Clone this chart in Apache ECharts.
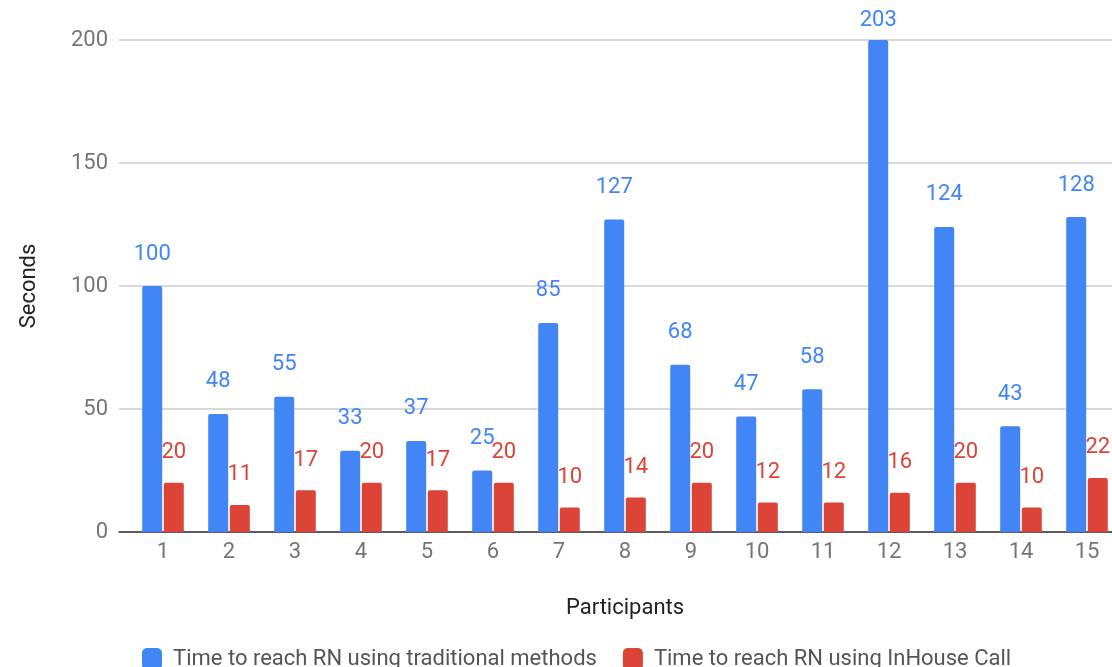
<!DOCTYPE html>
<html>
<head>
<meta charset="utf-8">
<script src="https://cdn.jsdelivr.net/npm/echarts@6/dist/echarts.min.js"></script>
<style>
  html, body { margin: 0; padding: 0; background: #fff; overflow: hidden; }
  #chart { width: 1140px; height: 667px; }
</style>
</head>
<body>
<div id="chart"></div>
<script>
const participants = ['1','2','3','4','5','6','7','8','9','10','11','12','13','14','15'];
const traditional = [100, 48, 55, 33, 37, 25, 85, 127, 68, 47, 58, 203, 124, 43, 128];
const inhouse = [20, 11, 17, 20, 17, 20, 10, 14, 20, 12, 12, 16, 20, 10, 22];
const seriesNames = ['Time to reach RN using traditional methods', 'Time to reach RN using InHouse Call'];
const yTicks = { min: 0, max: 200, step: 50 };

const BLUE = '#4285F4';
const RED = '#DB4437';
const FONT = 'Roboto';
const FS = 22;

const chart = echarts.init(document.getElementById('chart'), null, { renderer: 'canvas' });

// bar values above the axis max are clipped; their label sits closer to the clipped top
const blueData = traditional.map(v => v > yTicks.max
  ? { value: v, label: { distance: 9 } }
  : v);

chart.setOption({
  animation: false,
  textStyle: { fontFamily: FONT },
  legend: {
    left: 137,
    top: 643,
    itemWidth: 20,
    itemHeight: 22,
    itemGap: 26,
    icon: 'roundRect',
    textStyle: { fontSize: FS, color: '#555', fontFamily: FONT, padding: [0, 0, 0, 6] },
    data: seriesNames
  },
  grid: [
    // background grid: gridlines and baseline across the full width
    { left: 119, width: 1140 - 119, top: 40, height: 492 },
    // bar grid
    { left: 130, width: 990, top: 40, height: 492 }
  ],
  xAxis: [
    {
      gridIndex: 0,
      type: 'category',
      data: [''],
      axisLine: { show: true, lineStyle: { color: '#333', width: 1.5 } },
      axisTick: { show: false },
      axisLabel: { show: false }
    },
    {
      gridIndex: 1,
      type: 'category',
      data: participants,
      axisLine: { show: false },
      axisTick: { show: false },
      axisLabel: { color: '#757575', fontSize: FS, margin: 9, fontFamily: FONT },
      name: 'Participants',
      nameLocation: 'middle',
      nameGap: 65,
      nameTextStyle: { color: '#222', fontSize: FS, fontFamily: FONT }
    }
  ],
  yAxis: [
    {
      gridIndex: 0,
      type: 'value',
      min: yTicks.min,
      max: yTicks.max,
      interval: yTicks.step,
      axisLine: { show: false },
      axisTick: { show: false },
      axisLabel: { color: '#757575', fontSize: FS, margin: 11, fontFamily: FONT },
      splitLine: { lineStyle: { color: '#cccccc', width: 1.5 } },
      name: 'Seconds',
      nameLocation: 'middle',
      nameGap: 79,
      nameTextStyle: { color: '#222', fontSize: FS, fontFamily: FONT }
    },
    {
      gridIndex: 1,
      type: 'value',
      min: yTicks.min,
      max: yTicks.max,
      interval: yTicks.step,
      show: false,
      splitLine: { show: false }
    }
  ],
  series: [
    {
      name: seriesNames[0],
      type: 'bar',
      xAxisIndex: 1,
      yAxisIndex: 1,
      data: blueData,
      barWidth: 20,
      barGap: '8%',
      clip: true,
      itemStyle: { color: BLUE, borderRadius: [2, 2, 0, 0] },
      label: {
        show: true,
        position: 'top',
        distance: 21,
        color: BLUE,
        fontSize: FS,
        fontFamily: FONT
      }
    },
    {
      name: seriesNames[1],
      type: 'bar',
      xAxisIndex: 1,
      yAxisIndex: 1,
      data: inhouse,
      barWidth: 20,
      barGap: '8%',
      clip: true,
      itemStyle: { color: RED, borderRadius: [2, 2, 0, 0] },
      label: {
        show: true,
        position: 'top',
        distance: 19,
        color: RED,
        fontSize: FS,
        fontFamily: FONT
      }
    }
  ]
});
</script>
</body>
</html>
